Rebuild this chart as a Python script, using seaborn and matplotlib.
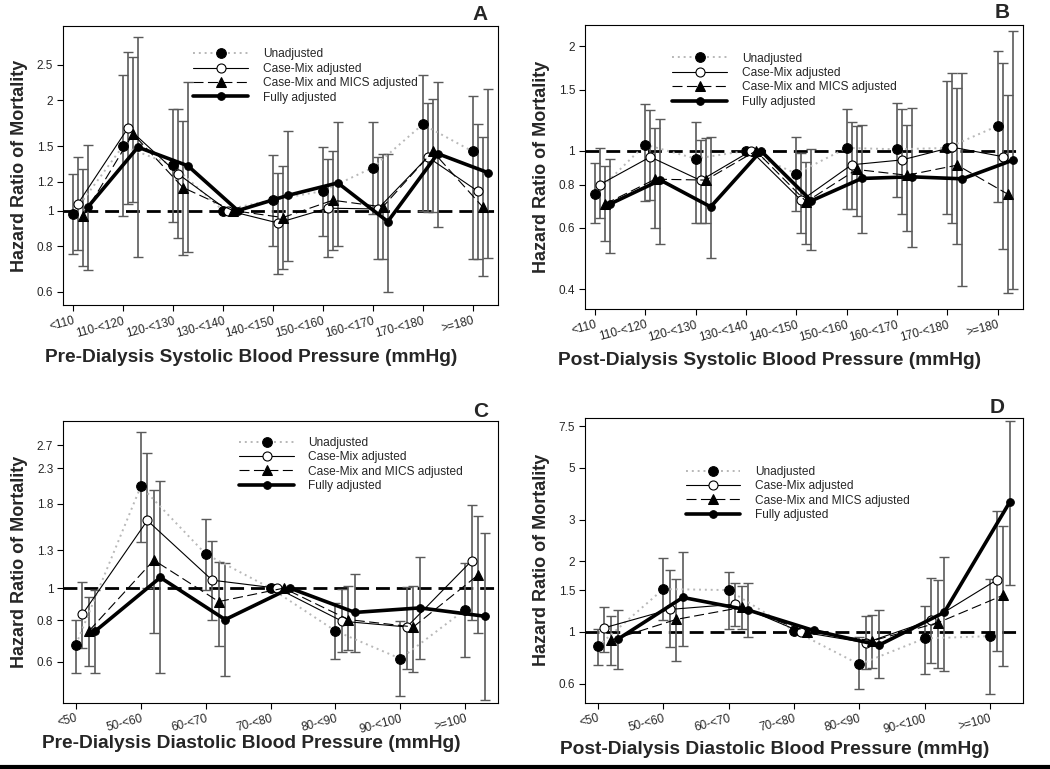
import numpy as np
import pandas as pd
import matplotlib
matplotlib.use('Agg')
import matplotlib.pyplot as plt
import seaborn as sns
from matplotlib.lines import Line2D
from matplotlib.ticker import FixedLocator, NullLocator

sns.set_theme(style='ticks')
plt.rcParams['font.family'] = ['Liberation Sans', 'DejaVu Sans']

series = ['Unadjusted', 'Case-Mix adjusted', 'Case-Mix and MICS adjusted', 'Fully adjusted']

# systolic categories (panels A and B)
sys_cats = ['<110', '110-<120', '120-<130', '130-<140', '140-<150',
            '150-<160', '160-<170', '170-<180', '>=180']
# diastolic categories (panels C and D)
dia_cats = ['<50', '50-<60', '60-<70', '70-<80', '80-<90', '90-<100', '>=100']

# panel A: pre-dialysis systolic  (hr, lower, upper) per series
a_hr = [[0.98, 1.50, 1.33, 1.00, 1.07, 1.13, 1.31, 1.72, 1.45],
        [1.045, 1.68, 1.26, 1.00, 0.925, 1.015, 1.01, 1.40, 1.13],
        [0.965, 1.62, 1.156, 1.00, 0.957, 1.067, 1.023, 1.45, 1.023],
        [1.023, 1.49, 1.325, 1.00, 1.10, 1.19, 0.933, 1.43, 1.27]]
a_lo = [[0.763, 0.965, 0.933, None, 0.80, 0.854, 0.98, 1.00, 0.738],
        [0.779, 1.045, 0.84, None, 0.67, 0.745, 0.735, 0.99, 0.738],
        [0.707, 1.054, 0.756, None, 0.693, 0.779, 0.735, 0.99, 0.661],
        [0.69, 0.747, 0.77, None, 0.73, 0.80, 0.60, 0.90, 0.744]]
a_hi = [[1.257, 2.34, 1.89, None, 1.42, 1.49, 1.74, 2.34, 2.06],
        [1.40, 2.71, 1.89, None, 1.27, 1.38, 1.40, 1.97, 1.72],
        [1.30, 2.62, 1.76, None, 1.325, 1.456, 1.426, 2.02, 1.59],
        [1.51, 2.98, 2.25, None, 1.65, 1.75, 1.43, 2.24, 2.15]]

# panel B: post-dialysis systolic
b_hr = [[0.751, 1.043, 0.95, 1.00, 0.86, 1.02, 1.011, 1.02, 1.18],
        [0.80, 0.961, 0.822, 1.00, 0.72, 0.912, 0.942, 1.025, 0.963],
        [0.703, 0.829, 0.824, 1.00, 0.714, 0.884, 0.851, 0.91, 0.751],
        [0.703, 0.824, 0.69, 1.00, 0.718, 0.833, 0.842, 0.831, 0.94]]
b_lo = [[0.618, 0.718, 0.62, None, 0.669, 0.678, 0.738, 0.66, 0.712],
        [0.639, 0.72, 0.62, None, 0.579, 0.678, 0.66, 0.618, 0.52],
        [0.551, 0.598, 0.62, None, 0.54, 0.649, 0.589, 0.54, 0.389],
        [0.509, 0.54, 0.49, None, 0.518, 0.579, 0.53, 0.408, 0.40]]
b_hi = [[0.92, 1.365, 1.21, None, 1.097, 1.32, 1.377, 1.588, 1.946],
        [1.02, 1.309, 1.078, None, 0.987, 1.21, 1.32, 1.675, 1.79],
        [0.904, 1.162, 1.092, None, 0.928, 1.177, 1.19, 1.52, 1.45],
        [0.948, 1.233, 1.097, None, 1.011, 1.188, 1.33, 1.675, 2.22]]

# panel C: pre-dialysis diastolic
c_hr = [[0.676, 2.03, 1.267, 1.00, 0.743, 0.613, 0.862],
        [0.835, 1.60, 1.057, 1.00, 0.795, 0.764, 1.21],
        [0.743, 1.215, 0.911, 1.00, 0.804, 0.764, 1.097],
        [0.743, 1.077, 0.804, 1.00, 0.845, 0.872, 0.823]]
c_lo = [[0.553, 1.38, 0.99, None, 0.612, 0.472, 0.62],
        [0.662, 1.00, 0.804, None, 0.641, 0.571, 0.80],
        [0.581, 0.733, 0.671, None, 0.653, 0.56, 0.733],
        [0.553, 0.553, 0.543, None, 0.641, 0.612, 0.461]]
c_hi = [[0.80, 2.965, 1.615, None, 0.903, 0.797, 1.19],
        [1.043, 2.55, 1.39, None, 0.995, 1.01, 1.785],
        [0.942, 1.976, 1.20, None, 1.014, 1.014, 1.653],
        [0.99, 2.10, 1.187, None, 1.102, 1.243, 1.463]]

# panel D: post-dialysis diastolic
d_hr = [[0.869, 1.52, 1.505, 1.01, 0.726, 0.937, 0.958],
        [1.04, 1.245, 1.31, 1.00, 0.898, 1.12, 1.66],
        [0.921, 1.129, 1.27, 1.00, 0.915, 1.092, 1.43],
        [0.928, 1.40, 1.237, 1.013, 0.877, 1.21, 3.56]]
d_lo = [[0.721, 1.12, 1.027, None, 0.57, 0.66, 0.541],
        [0.822, 0.863, 1.06, None, 0.691, 0.733, 0.83],
        [0.721, 0.752, 1.023, None, 0.70, 0.70, 0.714],
        [0.691, 0.872, 0.946, None, 0.633, 0.682, 1.58]]
d_hi = [[1.03, 2.07, 1.80, None, 0.952, 1.29, 1.67],
        [1.278, 1.83, 1.607, None, 1.166, 1.70, 3.27],
        [1.166, 1.67, 1.565, None, 1.174, 1.66, 2.83],
        [1.237, 2.19, 1.607, None, 1.237, 2.09, 7.93]]

offsets = [0.0, 0.1, 0.2, 0.3]
line_kw = [dict(color='#b8b8b8', lw=1.4, ls=(0, (1, 2)), marker='o', ms=7,
                mfc='black', mec='black'),
           dict(color='black', lw=0.8, ls='-', marker='o', ms=6.5,
                mfc='white', mec='black', mew=0.8),
           dict(color='black', lw=0.8, ls=(0, (9, 4)), marker='^', ms=6.5,
                mfc='black', mec='black'),
           dict(color='black', lw=2.6, ls='-', marker='o', ms=5.5,
                mfc='black', mec='black')]

panels = [
    dict(letter='A', cats=sys_cats, hr=a_hr, lo=a_lo, hi=a_hi,
         yticks=[0.6, 0.8, 1, 1.2, 1.5, 2, 2.5], ylim=(0.551, 3.19),
         xlabel='Pre-Dialysis Systolic Blood Pressure (mmHg)',
         rect=[0.060, 0.603, 0.414, 0.363], leg=(0.30, 0.92),
         xlab_pos=(0.432, -0.186), letter_pos=(488, 20)),
    dict(letter='B', cats=sys_cats, hr=b_hr, lo=b_lo, hi=b_hi,
         yticks=[0.4, 0.6, 0.8, 1, 1.5, 2], ylim=(0.350, 2.30),
         xlabel='Post-Dialysis Systolic Blood Pressure (mmHg)',
         rect=[0.557, 0.598, 0.417, 0.369], leg=(0.20, 0.904),
         xlab_pos=(0.422, -0.18), letter_pos=(1010, 18)),
    dict(letter='C', cats=dia_cats, hr=c_hr, lo=c_lo, hi=c_hi,
         yticks=[0.6, 0.8, 1, 1.3, 1.8, 2.3, 2.7], ylim=(0.451, 3.2),
         xlabel='Pre-Dialysis Diastolic Blood Pressure (mmHg)',
         rect=[0.060, 0.086, 0.414, 0.367], leg=(0.405, 0.943),
         xlab_pos=(0.434, -0.145), letter_pos=(488, 417)),
    dict(letter='D', cats=dia_cats, hr=d_hr, lo=d_lo, hi=d_hi,
         yticks=[0.6, 1, 1.5, 2, 3, 5, 7.5], ylim=(0.498, 8.17),
         xlabel='Post-Dialysis Diastolic Blood Pressure (mmHg)',
         rect=[0.557, 0.086, 0.417, 0.371], leg=(0.23, 0.831),
         xlab_pos=(0.434, -0.165), letter_pos=(1005, 413)),
]

W, H = 1050, 769
fig = plt.figure(figsize=(W / 100, H / 100), dpi=100)

for p in panels:
    ax = fig.add_axes(p['rect'])
    n = len(p['cats'])
    ax.set_yscale('log')
    ax.axhline(1.0, color='black', lw=2.0, ls=(0, (5, 2.5)), zorder=1)
    for i, name in enumerate(series):
        x = np.arange(n) + offsets[i]
        df = pd.DataFrame({'x': x, 'hr': p['hr'][i]})
        lo = np.array([np.nan if v is None else v for v in p['lo'][i]])
        hi = np.array([np.nan if v is None else v for v in p['hi'][i]])
        ok = ~np.isnan(lo)
        hr = np.array(p['hr'][i])
        ax.errorbar(x[ok], hr[ok], yerr=[hr[ok] - lo[ok], hi[ok] - hr[ok]],
                    fmt='none', ecolor='#5a5a5a', elinewidth=1.2, capsize=3.5,
                    capthick=1.0, zorder=2)
        sns.lineplot(data=df, x='x', y='hr', ax=ax, label=name,
                     zorder=3 + i, **line_kw[i])
    ax.set_xlim(-0.2, n - 0.5)
    ax.set_ylim(*p['ylim'])
    ax.yaxis.set_major_locator(FixedLocator(p['yticks']))
    ax.yaxis.set_minor_locator(NullLocator())
    ax.set_yticklabels([f'{v:g}' for v in p['yticks']], fontsize=8.5)
    ax.set_xticks(np.arange(n))
    ax.set_xticklabels(p['cats'], rotation=15, ha='right', va='top',
                       rotation_mode='anchor', fontsize=8.5)
    ax.tick_params(axis='both', direction='out', length=4, width=0.8,
                   color='black', pad=3)
    for s in ax.spines.values():
        s.set_color('black')
        s.set_linewidth(0.8)
    ax.set_ylabel('Hazard Ratio of Mortality', fontsize=13, fontweight='bold',
                  labelpad=6)
    ax.set_xlabel(p['xlabel'], fontsize=13.8, fontweight='bold', va='center')
    ax.xaxis.set_label_coords(*p['xlab_pos'])
    ax.grid(False)
    ax.legend(loc='upper left', bbox_to_anchor=p['leg'], frameon=False,
              fontsize=8.6, handlelength=4.6, handletextpad=1.2,
              labelspacing=0.2, borderpad=0, borderaxespad=0)
    lx, ly = p['letter_pos']
    fig.text(lx / W, 1 - ly / H, p['letter'], ha='right', va='baseline',
             fontsize=15, fontweight='bold')

fig.add_artist(Line2D([0, 1], [0.003, 0.003], color='black', lw=3,
                      transform=fig.transFigure))

fig.savefig('out.png', dpi=100, facecolor='white')
